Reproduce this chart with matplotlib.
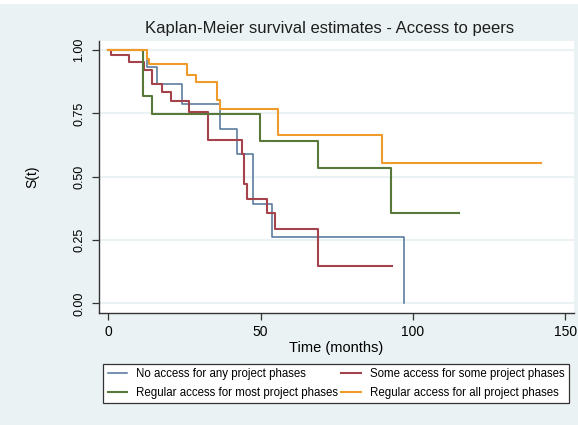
import matplotlib
matplotlib.use("Agg")
import matplotlib.pyplot as plt
from matplotlib.patches import Rectangle

plt.rcParams["font.family"] = ["Liberation Sans", "DejaVu Sans"]

# Kaplan-Meier step points: event times (months) and survival after each drop
no_t = [0, 12.8, 15.9, 24.1, 36.7, 42.1, 47.6, 53.8, 97.0]
no_s = [1.0, 0.933, 0.865, 0.788, 0.687, 0.590, 0.392, 0.263, 0.0]

some_t = [0, 0.8, 6.8, 11.6, 14.5, 17.7, 20.6, 26.6, 32.8, 43.8, 44.7, 45.6, 52.0, 54.7, 68.8, 93.0]
some_s = [1.0, 0.979, 0.953, 0.923, 0.866, 0.835, 0.800, 0.754, 0.645, 0.588, 0.471, 0.410, 0.355, 0.294, 0.148, 0.148]

most_t = [0, 11.5, 14.4, 49.8, 68.8, 92.9, 115.0]
most_s = [1.0, 0.817, 0.746, 0.641, 0.534, 0.357, 0.357]

all_t = [0, 12.6, 13.4, 25.7, 28.8, 35.8, 36.7, 55.8, 89.7, 142.0]
all_s = [1.0, 0.965, 0.946, 0.900, 0.874, 0.803, 0.767, 0.664, 0.554, 0.554]

labels = [
    "No access for any project phases",
    "Some access for some project phases",
    "Regular access for most project phases",
    "Regular access for all project phases",
]
colors = ["#4f7399", "#a5434c", "#59793a", "#ee9b2c"]

bg = "#eaf2f3"
W, H = 578, 425
fig = plt.figure(figsize=(W / 100, H / 100), dpi=100, facecolor=bg)
fig.patches.append(Rectangle((0, 1 - 4 / H), 1, 4 / H, transform=fig.transFigure,
                             facecolor="white", edgecolor="none", zorder=0))

ax = fig.add_axes([99 / W, 1 - 312.7 / H, (574 - 99) / W, (312.7 - 40.7) / H])
ax.set_facecolor("white")

lines = []
for t, s, c, lw, lab in zip([no_t, some_t, most_t, all_t],
                            [no_s, some_s, most_s, all_s],
                            colors, [1.1, 1.5, 1.5, 1.5], labels):
    ln, = ax.step(t, s, where="post", color=c, lw=lw, label=lab, zorder=3)
    lines.append(ln)

ax.set_xlim(-3.05, 152.9)
ax.set_ylim(-0.037, 1.037)
ax.set_yticks([0, 0.25, 0.5, 0.75, 1.0])
ax.set_yticklabels(["0.00", "0.25", "0.50", "0.75", "1.00"], rotation=90, va="center")
ax.set_xticks([0, 50, 100, 150])
ax.grid(axis="y", color=bg, lw=1.5, zorder=1)
ax.grid(axis="x", visible=False)

for side in ["top", "right"]:
    ax.spines[side].set_visible(False)
for side in ["left", "bottom"]:
    ax.spines[side].set_color("#333333")
    ax.spines[side].set_linewidth(1.0)
ax.tick_params(axis="y", direction="out", length=5, width=0.9, color="#333333",
               labelsize=9, pad=5)
ax.tick_params(axis="x", direction="out", length=5, width=0.9, color="#333333",
               labelsize=10, pad=4)

ax.set_ylabel("S(t)", fontsize=10, labelpad=24)
ax.set_xlabel("Time (months)", fontsize=10.5, labelpad=1)
fig.text(330 / W, 1 - 28 / H, "Kaplan-Meier survival estimates - Access to peers",
         ha="center", va="center", fontsize=12, color="#1e1e1e")

order = [0, 2, 1, 3]
leg = fig.legend([lines[i] for i in order], [labels[i] for i in order],
                 loc="center", bbox_to_anchor=(103 / W, 1 - 407 / H, 466 / W, 47 / H),
                 mode="expand", ncol=2, fontsize=8.3, frameon=True, fancybox=False,
                 edgecolor="#333333", framealpha=1, handlelength=1.7, handletextpad=0.8,
                 borderaxespad=0, borderpad=0.4, labelspacing=0.55, columnspacing=1.0)
leg.get_frame().set_linewidth(0.9)

fig.savefig("out.png", dpi=100, facecolor=fig.get_facecolor())
